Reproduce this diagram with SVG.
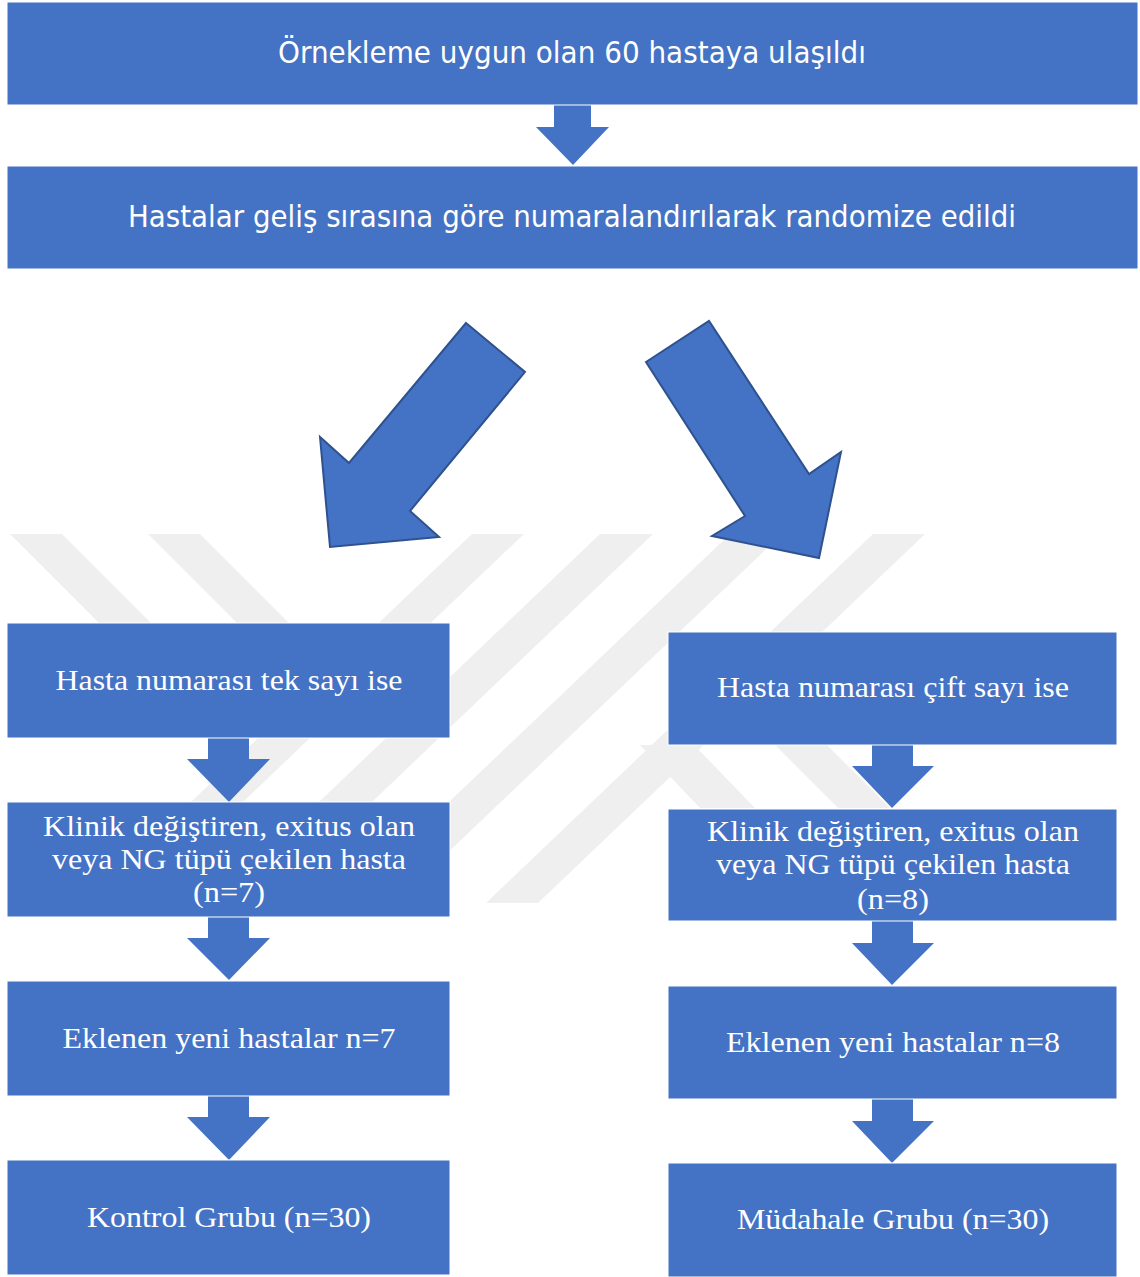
<svg xmlns="http://www.w3.org/2000/svg" width="1140" height="1277" viewBox="0 0 1140 1277">
<style>
.box{fill:#4472C4;stroke:#ffffff;stroke-width:1}
.arr{fill:#4472C4}
.big{fill:#4472C4;stroke:#2F528F;stroke-width:2;stroke-linejoin:miter}
.wm{fill:#EFEFEF}
.ts{font-family:"DejaVu Sans","Liberation Sans",sans-serif;font-size:30px;fill:#ffffff;text-anchor:middle}
.tr{font-family:"Liberation Serif","Times New Roman",serif;font-size:30px;fill:#ffffff;text-anchor:middle}
</style>
<rect width="1140" height="1277" fill="#ffffff"/>
<g id="watermark">
<polygon class="wm" points="10,534 62,534 168,640 116,640"/>
<polygon class="wm" points="148,534 200,534 306,640 254,640"/>
<polygon class="wm" points="472,534 524,534 137,903 85,903"/>
<polygon class="wm" points="600,534 653,534 266,903 213,903"/>
<polygon class="wm" points="730,534 782,534 395,903 343,903"/>
<polygon class="wm" points="873,534 925,534 538,903 486,903"/>
<polygon class="wm" points="640,745 694,745 755,808 700,808"/>
<polygon class="wm" points="775,745 827,745 890,808 838,808"/>
</g>
<g id="connectors">
<polygon class="arr" points="554,105 591,105 591,127 609,127 573,165 536,127 554,127"/>
<polygon class="big" points="466,323 525,372 410,511 439,537 330,547 320,437 349,463"/>
<polygon class="big" points="646,362 709,321 809,474 841,452 819,558 712,536 745,516"/>
<polygon class="arr" points="208,738 249,738 249,759 270,759 229,802 187,759 208,759"/>
<polygon class="arr" points="208,917 249,917 249,938 270,938 229,980 187,938 208,938"/>
<polygon class="arr" points="208,1096 249,1096 249,1117 270,1117 229,1160 187,1117 208,1117"/>
<polygon class="arr" points="872,745 913,745 913,766 934,766 892,808 852,766 872,766"/>
<polygon class="arr" points="872,921 913,921 913,943 934,943 892,985 852,943 872,943"/>
<polygon class="arr" points="872,1099 913,1099 913,1121 934,1121 892,1163 852,1121 872,1121"/>
</g>
<g id="n1"><rect class="box" x="7" y="2" width="1131" height="103"/>
<text class="ts" x="572" y="63" textLength="588" lengthAdjust="spacingAndGlyphs">Örnekleme uygun olan 60 hastaya ulaşıldı</text></g>
<g id="n2"><rect class="box" x="7" y="166" width="1131" height="103"/>
<text class="ts" x="572" y="227" textLength="888" lengthAdjust="spacingAndGlyphs">Hastalar geliş sırasına göre numaralandırılarak randomize edildi</text></g>
<g id="L1"><rect class="box" x="7" y="623" width="443" height="115"/>
<text class="tr" x="229" y="690" textLength="347" lengthAdjust="spacingAndGlyphs">Hasta numarası tek sayı ise</text></g>
<g id="L2"><rect class="box" x="7" y="802" width="443" height="115"/>
<text class="tr" x="229" y="836" textLength="372" lengthAdjust="spacingAndGlyphs">Klinik değiştiren, exitus olan</text>
<text class="tr" x="229" y="869" textLength="354" lengthAdjust="spacingAndGlyphs">veya NG tüpü çekilen hasta</text>
<text class="tr" x="229" y="902" textLength="72" lengthAdjust="spacingAndGlyphs">(n=7)</text></g>
<g id="L3"><rect class="box" x="7" y="981" width="443" height="115"/>
<text class="tr" x="229" y="1048" textLength="333" lengthAdjust="spacingAndGlyphs">Eklenen yeni hastalar n=7</text></g>
<g id="L4"><rect class="box" x="7" y="1160" width="443" height="115"/>
<text class="tr" x="229" y="1227" textLength="284" lengthAdjust="spacingAndGlyphs">Kontrol Grubu (n=30)</text></g>
<g id="R1"><rect class="box" x="668" y="632" width="449" height="113"/>
<text class="tr" x="893" y="697" textLength="352" lengthAdjust="spacingAndGlyphs">Hasta numarası çift sayı ise</text></g>
<g id="R2"><rect class="box" x="668" y="809" width="449" height="112"/>
<text class="tr" x="893" y="841" textLength="372" lengthAdjust="spacingAndGlyphs">Klinik değiştiren, exitus olan</text>
<text class="tr" x="893" y="874" textLength="354" lengthAdjust="spacingAndGlyphs">veya NG tüpü çekilen hasta</text>
<text class="tr" x="893" y="909" textLength="72" lengthAdjust="spacingAndGlyphs">(n=8)</text></g>
<g id="R3"><rect class="box" x="668" y="986" width="449" height="113"/>
<text class="tr" x="893" y="1052" textLength="334" lengthAdjust="spacingAndGlyphs">Eklenen yeni hastalar n=8</text></g>
<g id="R4"><rect class="box" x="668" y="1163" width="449" height="114"/>
<text class="tr" x="893" y="1229" textLength="312" lengthAdjust="spacingAndGlyphs">Müdahale Grubu (n=30)</text></g>
</svg>
